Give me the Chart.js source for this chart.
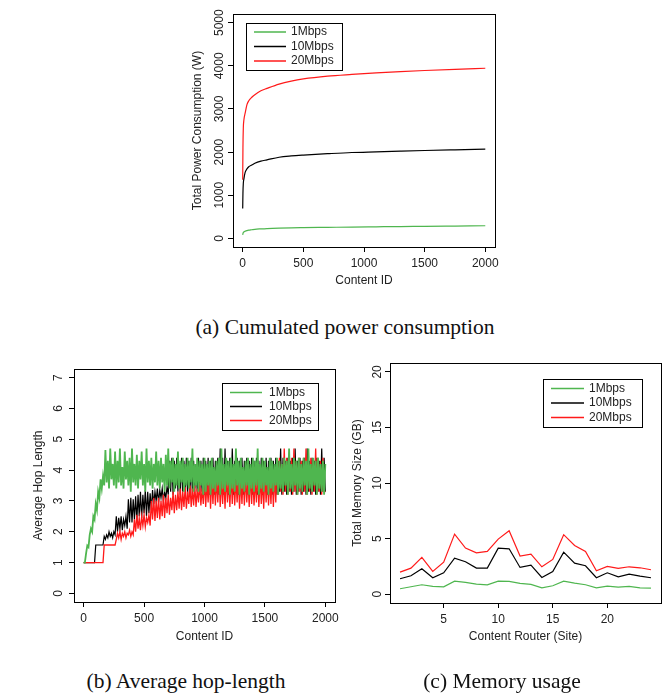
<!DOCTYPE html>
<html>
<head>
<meta charset="utf-8">
<script src="https://cdn.jsdelivr.net/npm/chart.js@4.4.1/dist/chart.umd.min.js"></script>
<style>
  body { margin: 0; background: #fff; width: 668px; height: 698px; position: relative; overflow: hidden; }
  canvas { position: absolute; }
  .cap { position: absolute; font: 21.5px/1 'Liberation Serif', 'DejaVu Serif', serif; color: #111; white-space: nowrap; transform: translateX(-50%); }
</style>
</head>
<body>
<canvas id="powerChart" width="330" height="300" style="left:180px;top:0;width:330px;height:300px"></canvas>
<canvas id="hopChart" width="345" height="300" style="left:0;top:355px;width:345px;height:300px"></canvas>
<canvas id="memChart" width="328" height="300" style="left:340px;top:355px;width:328px;height:300px"></canvas>
<div class="cap" style="left:345px;top:317px">(a) Cumulated power consumption</div>
<div class="cap" style="left:186px;top:671px">(b) Average hop-length</div>
<div class="cap" style="left:502px;top:671px">(c) Memory usage</div>
<script>
const seriesNames = ['1Mbps', '10Mbps', '20Mbps'];
const seriesColors = ['#4fb64f', '#000000', '#ff1a1a'];

// (a) cumulated power consumption
const powerX = [0, 2, 5, 10, 20, 35, 50, 75, 100, 150, 200, 300, 400, 500, 700, 900, 1100, 1300, 1500, 1750, 2000];
const power1 = [80, 110, 135, 150, 165, 180, 190, 200, 210, 220, 228, 238, 244, 248, 255, 262, 268, 274, 279, 286, 293];
const power10 = [690, 1050, 1270, 1380, 1530, 1610, 1660, 1700, 1740, 1790, 1820, 1880, 1910, 1930, 1962, 1990, 2006, 2022, 2037, 2053, 2068];
const power20 = [1360, 2100, 2550, 2750, 2900, 3100, 3190, 3270, 3330, 3420, 3475, 3575, 3645, 3696, 3760, 3800, 3835, 3865, 3890, 3918, 3943];
const powerXTicks = [0, 500, 1000, 1500, 2000];
const powerYTicks = [0, 1000, 2000, 3000, 4000, 5000];

// (b) average hop length, one row = 200 content ids
const hopX = [
  0, 10, 20, 30, 40, 50, 60, 70, 80, 90, 100, 110, 120, 130, 140, 150, 160, 170, 180, 190,
  200, 210, 220, 230, 240, 250, 260, 270, 280, 290, 300, 310, 320, 330, 340, 350, 360, 370, 380, 390,
  400, 410, 420, 430, 440, 450, 460, 470, 480, 490, 500, 510, 520, 530, 540, 550, 560, 570, 580, 590,
  600, 610, 620, 630, 640, 650, 660, 670, 680, 690, 700, 710, 720, 730, 740, 750, 760, 770, 780, 790,
  800, 810, 820, 830, 840, 850, 860, 870, 880, 890, 900, 910, 920, 930, 940, 950, 960, 970, 980, 990,
  1000, 1010, 1020, 1030, 1040, 1050, 1060, 1070, 1080, 1090, 1100, 1110, 1120, 1130, 1140, 1150, 1160, 1170, 1180, 1190,
  1200, 1210, 1220, 1230, 1240, 1250, 1260, 1270, 1280, 1290, 1300, 1310, 1320, 1330, 1340, 1350, 1360, 1370, 1380, 1390,
  1400, 1410, 1420, 1430, 1440, 1450, 1460, 1470, 1480, 1490, 1500, 1510, 1520, 1530, 1540, 1550, 1560, 1570, 1580, 1590,
  1600, 1610, 1620, 1630, 1640, 1650, 1660, 1670, 1680, 1690, 1700, 1710, 1720, 1730, 1740, 1750, 1760, 1770, 1780, 1790,
  1800, 1810, 1820, 1830, 1840, 1850, 1860, 1870, 1880, 1890, 1900, 1910, 1920, 1930, 1940, 1950, 1960, 1970, 1980, 1990,
  2000];
const hop1 = [
  1.0, 1.0, 1.3, 1.55, 1.5, 1.9, 2.1, 2.0, 2.5, 2.4, 2.9, 2.7, 3.3, 3.1, 3.7, 3.4, 3.8, 3.5, 4.65, 3.6,
  4.3, 3.4, 4.7, 3.7, 4.2, 3.5, 4.6, 3.4, 4.3, 3.6, 4.7, 3.5, 4.1, 3.4, 4.6, 3.7, 4.3, 3.5, 4.4, 3.3,
  4.7, 3.6, 4.2, 3.5, 4.5, 3.4, 4.3, 3.7, 4.6, 3.5, 4.2, 3.3, 4.7, 3.6, 4.3, 3.5, 4.4, 3.4, 4.2, 3.6,
  4.6, 3.5, 4.3, 3.4, 4.4, 3.6, 4.2, 3.3, 4.5, 3.5, 4.7, 3.4, 4.3, 3.6, 4.4, 3.3, 4.2, 3.5, 4.6, 3.4,
  4.3, 3.6, 4.4, 3.3, 4.2, 3.5, 4.4, 3.4, 4.3, 3.6, 4.7, 3.3, 4.2, 3.5, 4.4, 3.3, 4.3, 3.5, 4.2, 3.2,
  4.4, 3.3, 4.2, 3.5, 4.3, 3.2, 4.4, 3.4, 4.1, 3.3, 4.3, 3.5, 4.4, 3.2, 4.7, 3.4, 4.2, 3.3, 4.4, 3.5,
  4.3, 3.2, 4.4, 3.4, 4.2, 3.3, 4.7, 3.5, 4.3, 3.2, 4.4, 3.4, 4.1, 3.3, 4.3, 3.5, 4.4, 3.2, 4.2, 3.4,
  4.4, 3.3, 4.3, 3.5, 4.7, 3.2, 4.2, 3.4, 4.4, 3.3, 4.3, 3.5, 4.1, 3.2, 4.4, 3.4, 4.3, 3.3, 4.2, 3.5,
  4.4, 3.2, 4.3, 3.4, 4.2, 3.3, 4.4, 3.5, 4.3, 3.2, 4.7, 3.4, 4.2, 3.3, 4.4, 3.5, 4.3, 3.2, 4.4, 3.4,
  4.2, 3.3, 4.4, 3.5, 4.3, 3.2, 4.7, 3.4, 4.2, 3.3, 4.4, 3.5, 4.3, 3.2, 4.4, 3.4, 4.2, 3.3, 4.3, 3.2,
  4.2];
const hop10 = [
  1.0, 1.0, 1.0, 1.0, 1.0, 1.0, 1.0, 1.0, 1.0, 1.0, 1.57, 1.57, 1.57, 1.57, 1.57, 1.57, 1.57, 1.85, 1.75, 1.9,
  1.8, 2.0, 1.85, 1.95, 1.8, 2.0, 1.9, 2.5, 2.0, 2.45, 2.1, 2.5, 2.05, 2.4, 2.2, 2.5, 2.1, 3.05, 2.3, 3.1,
  2.3, 3.05, 2.4, 3.15, 2.35, 3.2, 2.5, 3.3, 2.45, 3.2, 2.6, 3.35, 2.5, 3.3, 2.6, 3.25, 2.7, 3.35, 2.9, 3.3,
  3.0, 3.4, 2.95, 3.35, 3.1, 3.4, 3.0, 3.3, 3.1, 3.45, 3.2, 4.3, 3.3, 4.4, 3.2, 4.3, 3.4, 4.4, 3.3, 4.2,
  3.2, 4.4, 3.3, 4.3, 3.4, 4.4, 3.2, 4.3, 3.3, 4.4, 3.2, 4.3, 3.4, 4.2, 3.3, 4.4, 3.2, 4.3, 3.3, 4.4,
  3.2, 4.3, 3.3, 4.4, 3.2, 4.3, 3.4, 4.4, 3.2, 4.3, 3.3, 4.4, 3.2, 4.7, 3.3, 4.4, 3.2, 4.7, 3.3, 4.3,
  3.2, 4.4, 3.3, 4.7, 3.2, 4.3, 3.4, 4.4, 3.2, 4.3, 3.3, 4.4, 3.2, 4.3, 3.3, 4.4, 3.2, 4.3, 3.4, 4.4,
  3.2, 4.3, 3.3, 4.4, 3.2, 4.3, 3.3, 4.4, 3.2, 4.3, 3.4, 4.4, 3.2, 4.3, 3.3, 4.4, 3.2, 4.3, 3.3, 4.4,
  3.2, 4.3, 3.3, 4.7, 3.2, 4.4, 3.3, 4.3, 3.2, 4.4, 3.3, 4.3, 3.2, 4.4, 3.3, 4.7, 3.2, 4.3, 3.3, 4.4,
  3.2, 4.3, 3.3, 4.4, 3.2, 4.7, 3.3, 4.3, 3.2, 4.4, 3.3, 4.3, 3.2, 4.4, 3.3, 4.3, 3.2, 4.7, 3.3, 4.4,
  3.3];
const hop20 = [
  1.0, 1.0, 1.0, 1.0, 1.0, 1.0, 1.0, 1.0, 1.0, 1.0, 1.0, 1.0, 1.0, 1.0, 1.0, 1.0, 1.0, 1.57, 1.57, 1.57,
  1.57, 1.57, 1.57, 1.57, 1.57, 1.57, 1.57, 1.75, 1.95, 1.8, 2.0, 1.75, 1.95, 1.85, 2.0, 1.8, 1.95, 1.9, 2.05, 1.85,
  2.0, 1.9, 2.4, 2.0, 2.55, 2.1, 2.45, 2.05, 2.5, 2.2, 2.55, 2.15, 2.45, 2.3, 2.55, 2.2, 3.0, 2.4, 3.1, 2.35,
  3.0, 2.45, 3.1, 2.4, 3.0, 2.5, 3.2, 2.45, 3.1, 2.6, 3.2, 2.55, 3.1, 2.7, 3.3, 2.6, 3.2, 2.7, 3.3, 2.75,
  3.4, 2.7, 3.3, 2.8, 3.45, 2.75, 3.3, 2.9, 3.5, 2.8, 3.4, 2.85, 3.5, 2.8, 3.4, 2.95, 3.6, 2.85, 3.4, 2.9,
  3.7, 2.8, 3.6, 2.95, 3.8, 2.75, 3.7, 2.9, 3.8, 2.85, 3.7, 2.95, 3.9, 2.8, 3.7, 2.9, 3.8, 2.75, 3.9, 2.95,
  3.7, 2.8, 3.8, 2.9, 3.9, 2.85, 3.7, 2.95, 3.8, 2.75, 3.7, 2.9, 3.9, 2.85, 3.8, 2.95, 3.7, 2.8, 3.9, 2.9,
  3.8, 2.85, 3.7, 2.95, 3.9, 2.8, 3.8, 2.9, 3.7, 2.75, 3.9, 2.95, 3.8, 2.85, 3.7, 2.9, 3.9, 2.8, 3.8, 2.95,
  4.3, 3.2, 4.4, 3.3, 4.2, 3.2, 4.7, 3.3, 4.4, 3.2, 4.3, 3.3, 4.4, 3.2, 4.7, 3.3, 4.3, 3.2, 4.4, 3.3,
  4.3, 3.2, 4.4, 3.3, 4.7, 3.2, 4.3, 3.3, 4.4, 3.2, 4.3, 3.3, 4.7, 3.2, 4.4, 3.3, 4.3, 3.2, 4.4, 3.3,
  3.3];
const hopXTicks = [0, 500, 1000, 1500, 2000];
const hopYTicks = [0, 1, 2, 3, 4, 5, 6, 7];

// (c) memory usage per content router
const sites = [1, 2, 3, 4, 5, 6, 7, 8, 9, 10, 11, 12, 13, 14, 15, 16, 17, 18, 19, 20, 21, 22, 23, 24];
const mem1 = [0.48, 0.66, 0.84, 0.69, 0.66, 1.17, 1.05, 0.9, 0.84, 1.17, 1.14, 0.96, 0.87, 0.57, 0.75, 1.17, 0.99, 0.84, 0.57, 0.72, 0.63, 0.69, 0.57, 0.54];
const mem10 = [1.38, 1.65, 2.28, 1.47, 1.92, 3.24, 2.91, 2.34, 2.34, 4.14, 4.08, 2.4, 2.61, 1.5, 2.04, 3.78, 2.79, 2.55, 1.47, 1.92, 1.56, 1.8, 1.62, 1.47];
const mem20 = [1.98, 2.34, 3.3, 2.04, 2.88, 5.4, 4.14, 3.72, 3.84, 4.95, 5.7, 3.42, 3.6, 2.46, 3.12, 5.35, 4.38, 3.84, 2.1, 2.49, 2.31, 2.46, 2.37, 2.19];
const memXTicks = [5, 10, 15, 20];
const memYTicks = [0, 5, 10, 15, 20];

const FONT_FAMILY = "'Liberation Sans', Arial, sans-serif";
const TEXT = '#222';

// box round the plot region, like R's box()
const frame = {
  id: 'frame',
  afterDraw(chart) {
    const { ctx, chartArea: a } = chart;
    ctx.save();
    ctx.strokeStyle = '#000';
    ctx.lineWidth = 1;
    ctx.strokeRect(Math.round(a.left) + 0.5, Math.round(a.top) + 0.5, Math.round(a.right - a.left), Math.round(a.bottom - a.top));
    ctx.restore();
  },
};

// y tick labels turned 90 degrees (R las=0)
const sideLabels = {
  id: 'sideLabels',
  afterDraw(chart, args, opts) {
    const { ctx, chartArea: a } = chart;
    const s = chart.scales.y;
    ctx.save();
    ctx.font = '12px ' + FONT_FAMILY;
    ctx.fillStyle = TEXT;
    ctx.textAlign = 'center';
    ctx.textBaseline = 'middle';
    s.ticks.forEach((t) => {
      ctx.save();
      ctx.translate(a.left - opts.gap, s.getPixelForValue(t.value));
      ctx.rotate(-Math.PI / 2);
      ctx.fillText(String(t.value), 0, 0);
      ctx.restore();
    });
    ctx.restore();
  },
};

// legend with a box, placed inside the plot
const boxLegend = {
  id: 'boxLegend',
  afterDraw(chart, args, o) {
    const { ctx, chartArea: a } = chart;
    const x = Math.round(a.left + o.x);
    const y = Math.round(a.top + o.y);
    ctx.save();
    ctx.fillStyle = '#fff';
    ctx.fillRect(x, y, o.w, o.h);
    ctx.strokeStyle = '#000';
    ctx.lineWidth = 1;
    ctx.strokeRect(x + 0.5, y + 0.5, o.w, o.h);
    ctx.font = '12px ' + FONT_FAMILY;
    chart.data.datasets.forEach((ds, i) => {
      const yy = y + o.first + i * o.gap;
      ctx.strokeStyle = ds.borderColor;
      ctx.lineWidth = 1.5;
      ctx.beginPath();
      ctx.moveTo(x + 8, yy);
      ctx.lineTo(x + 8 + o.len, yy);
      ctx.stroke();
      ctx.fillStyle = TEXT;
      ctx.textAlign = 'left';
      ctx.textBaseline = 'middle';
      ctx.fillText(ds.label, x + o.tx, yy);
    });
    ctx.restore();
  },
};

function pairs(xs, ys) {
  return xs.map((x, i) => ({ x, y: ys[i] }));
}

function axis(min, max, ticks, title, fitSize, titlePad, showLabels) {
  return {
    type: 'linear',
    min,
    max,
    afterBuildTicks: (s) => { s.ticks = ticks.map((v) => ({ value: v })); },
    afterFit: (s) => { if (s.isHorizontal()) s.height = fitSize; else s.width = fitSize; },
    grid: { drawOnChartArea: false, drawTicks: true, tickLength: 5, color: '#000', lineWidth: 1 },
    border: { display: false },
    ticks: { display: showLabels, autoSkip: false, maxRotation: 0, padding: 4, color: TEXT, font: { family: FONT_FAMILY, size: 12 }, callback: (v) => String(v) },
    title: { display: true, text: title, color: TEXT, font: { family: FONT_FAMILY, size: 12 }, padding: titlePad },
  };
}

function makeChart(id, cfg) {
  const canvas = document.getElementById(id);
  const W = canvas.width;
  const H = canvas.height;
  const a = cfg.area;
  const xh = 45;
  const datasets = cfg.series.map((ys, i) => ({
    label: seriesNames[i],
    data: pairs(cfg.x, ys),
    borderColor: seriesColors[i],
    borderWidth: Array.isArray(cfg.lineWidth) ? cfg.lineWidth[i] : cfg.lineWidth,
    pointRadius: 0,
    fill: false,
    tension: 0,
    cubicInterpolationMode: cfg.smooth ? 'monotone' : 'default',
    order: cfg.order ? cfg.order[i] : i,
  }));
  return new Chart(canvas, {
    type: 'line',
    data: { datasets },
    options: {
      responsive: false,
      animation: false,
      events: [],
      layout: { padding: { left: 0, top: a.t, right: W - a.r, bottom: H - a.b - xh } },
      scales: {
        x: axis(cfg.xMin, cfg.xMax, cfg.xTicks, cfg.xTitle, xh, { top: 0, bottom: cfg.xTitleBottom }, true),
        y: axis(cfg.yMin, cfg.yMax, cfg.yTicks, cfg.yTitle, a.l, { top: cfg.yTitleTop, bottom: 0 }, false),
      },
      plugins: {
        legend: { display: false },
        tooltip: { enabled: false },
        sideLabels: { gap: cfg.labelGap },
        boxLegend: cfg.legend,
      },
    },
    plugins: [frame, sideLabels, boxLegend],
  });
}

makeChart('powerChart', {
  area: { l: 53, t: 14, r: 315, b: 247 },
  x: powerX,
  series: [power1, power10, power20],
  lineWidth: 1.2,
  smooth: true,
  xMin: -80, xMax: 2080, yMin: -200, yMax: 5200,
  xTicks: powerXTicks, yTicks: powerYTicks,
  xTitle: 'Content ID', yTitle: 'Total Power Consumption (W)',
  xTitleBottom: 4, yTitleTop: 10, labelGap: 13,
  legend: { x: 13, y: 9, w: 96, h: 47, first: 9, gap: 14.5, len: 32, tx: 45 },
});

makeChart('hopChart', {
  area: { l: 74, t: 14, r: 335, b: 247 },
  x: hopX,
  series: [hop1, hop10, hop20],
  lineWidth: [1.8, 1.2, 1.3],
  order: [0, 2, 1],
  xMin: -80, xMax: 2080, yMin: -0.28, yMax: 7.28,
  xTicks: hopXTicks, yTicks: hopYTicks,
  xTitle: 'Content ID', yTitle: 'Average Hop Length',
  xTitleBottom: 3, yTitleTop: 31, labelGap: 15.5,
  legend: { x: 148, y: 14, w: 96, h: 47, first: 9.5, gap: 14, len: 32, tx: 47 },
});

makeChart('memChart', {
  area: { l: 50, t: 8, r: 321, b: 248 },
  x: sites,
  series: [mem1, mem10, mem20],
  lineWidth: 1.2,
  xMin: 0.08, xMax: 24.92, yMin: -0.8, yMax: 20.8,
  xTicks: memXTicks, yTicks: memYTicks,
  xTitle: 'Content Router (Site)', yTitle: 'Total Memory Size (GB)',
  xTitleBottom: 4, yTitleTop: 10, labelGap: 12,
  legend: { x: 153, y: 16, w: 99, h: 48, first: 9.5, gap: 14.5, len: 33, tx: 46 },
});
</script>
</body>
</html>
